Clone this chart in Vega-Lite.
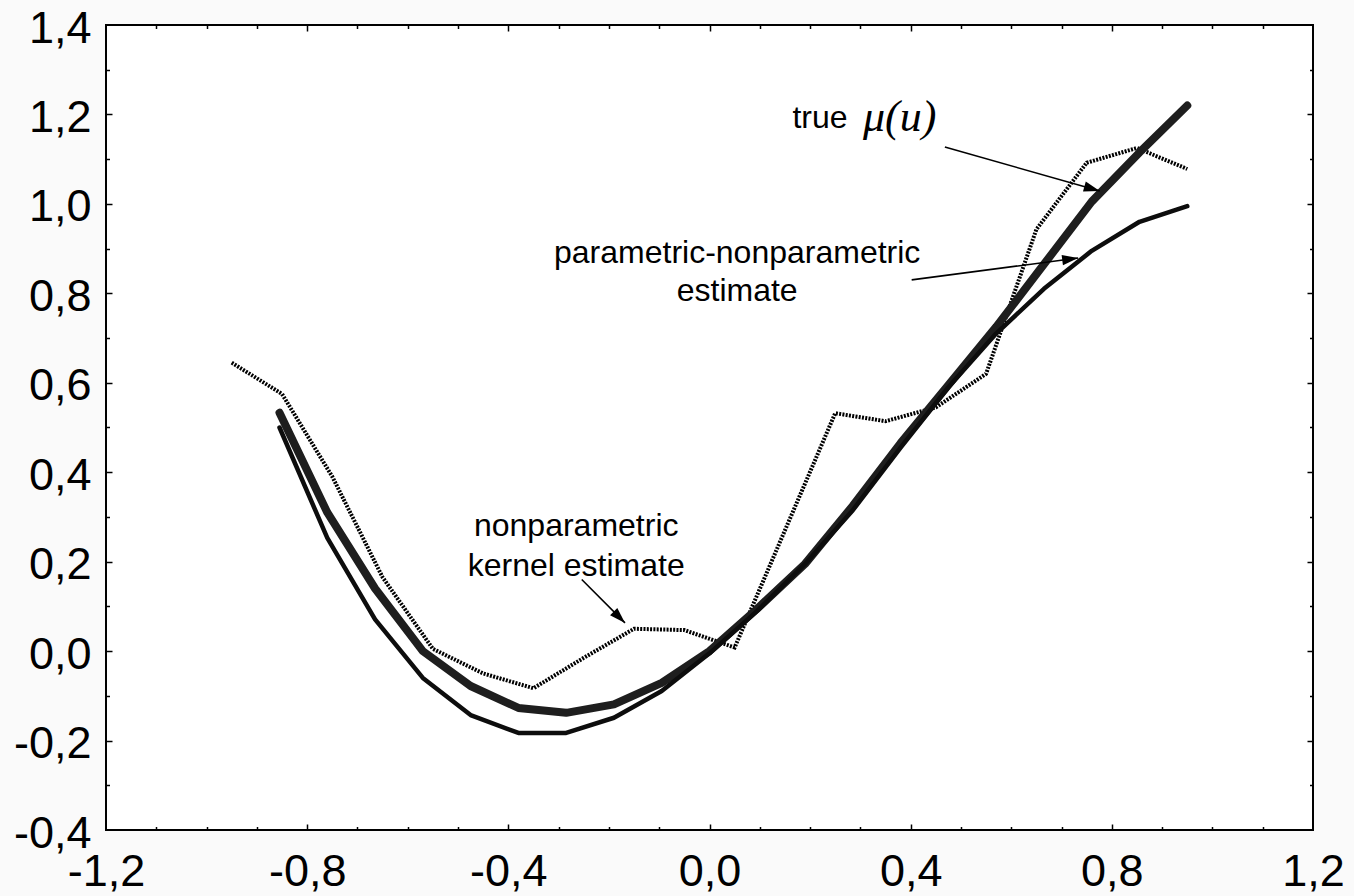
{
  "$schema": "https://vega.github.io/schema/vega-lite/v6.json",
  "width": 1207,
  "height": 805,
  "autosize": {"type": "none"},
  "padding": {"left": 106, "top": 25, "right": 41, "bottom": 66},
  "background": "#fafafa",
  "config": {
    "view": {"stroke": "#000", "strokeWidth": 2, "fill": "#ffffff"},
    "axis": {"grid": false, "domain": false, "title": null, "tickColor": "#000", "tickWidth": 1.5, "labelColor": "#000", "labelFont": "Liberation Sans"}
  },
  "datasets": {
    "curves": [
      {"series": "kernel", "x": -0.95, "y": 0.645},
      {"series": "kernel", "x": -0.85, "y": 0.575},
      {"series": "kernel", "x": -0.75, "y": 0.39},
      {"series": "kernel", "x": -0.65, "y": 0.165},
      {"series": "kernel", "x": -0.55, "y": 0.005},
      {"series": "kernel", "x": -0.45, "y": -0.05},
      {"series": "kernel", "x": -0.35, "y": -0.083},
      {"series": "kernel", "x": -0.25, "y": -0.015},
      {"series": "kernel", "x": -0.15, "y": 0.05},
      {"series": "kernel", "x": -0.05, "y": 0.047},
      {"series": "kernel", "x": 0.05, "y": 0.008},
      {"series": "kernel", "x": 0.15, "y": 0.27},
      {"series": "kernel", "x": 0.25, "y": 0.532},
      {"series": "kernel", "x": 0.35, "y": 0.514},
      {"series": "kernel", "x": 0.45, "y": 0.545},
      {"series": "kernel", "x": 0.55, "y": 0.62},
      {"series": "kernel", "x": 0.65, "y": 0.943},
      {"series": "kernel", "x": 0.75, "y": 1.092},
      {"series": "kernel", "x": 0.85, "y": 1.125},
      {"series": "kernel", "x": 0.95, "y": 1.078},
      {"series": "true", "x": -0.855, "y": 0.533},
      {"series": "true", "x": -0.76, "y": 0.31},
      {"series": "true", "x": -0.665, "y": 0.14},
      {"series": "true", "x": -0.57, "y": 0.0},
      {"series": "true", "x": -0.475, "y": -0.078},
      {"series": "true", "x": -0.38, "y": -0.127},
      {"series": "true", "x": -0.285, "y": -0.138},
      {"series": "true", "x": -0.19, "y": -0.119},
      {"series": "true", "x": -0.095, "y": -0.071},
      {"series": "true", "x": 0.0, "y": 0.0},
      {"series": "true", "x": 0.095, "y": 0.095},
      {"series": "true", "x": 0.19, "y": 0.195},
      {"series": "true", "x": 0.285, "y": 0.325},
      {"series": "true", "x": 0.38, "y": 0.465},
      {"series": "true", "x": 0.475, "y": 0.595},
      {"series": "true", "x": 0.57, "y": 0.725},
      {"series": "true", "x": 0.665, "y": 0.865},
      {"series": "true", "x": 0.76, "y": 1.005},
      {"series": "true", "x": 0.855, "y": 1.115},
      {"series": "true", "x": 0.95, "y": 1.22},
      {"series": "param", "x": -0.855, "y": 0.5},
      {"series": "param", "x": -0.76, "y": 0.253},
      {"series": "param", "x": -0.665, "y": 0.071},
      {"series": "param", "x": -0.57, "y": -0.06},
      {"series": "param", "x": -0.475, "y": -0.143},
      {"series": "param", "x": -0.38, "y": -0.183},
      {"series": "param", "x": -0.285, "y": -0.183},
      {"series": "param", "x": -0.19, "y": -0.149},
      {"series": "param", "x": -0.095, "y": -0.089},
      {"series": "param", "x": 0.0, "y": -0.005},
      {"series": "param", "x": 0.095, "y": 0.09},
      {"series": "param", "x": 0.19, "y": 0.195},
      {"series": "param", "x": 0.285, "y": 0.315},
      {"series": "param", "x": 0.38, "y": 0.455},
      {"series": "param", "x": 0.475, "y": 0.59},
      {"series": "param", "x": 0.57, "y": 0.71},
      {"series": "param", "x": 0.665, "y": 0.81},
      {"series": "param", "x": 0.76, "y": 0.895},
      {"series": "param", "x": 0.855, "y": 0.96},
      {"series": "param", "x": 0.95, "y": 0.995}
    ],
    "arrows": [
      {"x": 0.468, "y": 1.127, "x2": 0.776, "y2": 1.029, "angle": 15.85},
      {"x": 0.402, "y": 0.83, "x2": 0.733, "y2": 0.879, "angle": -7.6},
      {"x": -0.254, "y": 0.16, "x2": -0.168, "y2": 0.063, "angle": 45}
    ],
    "notes": [
      {"text": "true", "x": 0.2197, "y": 1.17},
      {"text": "parametric-nonparametric", "x": 0.055, "y": 0.868},
      {"text": "estimate", "x": 0.055, "y": 0.783},
      {"text": "nonparametric", "x": -0.265, "y": 0.257},
      {"text": "kernel estimate", "x": -0.265, "y": 0.168}
    ]
  },
  "resolve": {"axis": {"x": "independent", "y": "independent"}},
  "layer": [
    {
      "data": {"name": "curves"},
      "transform": [{"filter": "datum.series === 'kernel'"}],
      "mark": {"type": "line", "color": "#000000", "strokeWidth": 4, "strokeDash": [2, 1.3]},
      "encoding": {
        "x": {"field": "x", "type": "quantitative", "scale": {"domain": [-1.2, 1.2], "nice": false, "zero": false},
          "axis": {"orient": "bottom", "values": [-1.2, -0.8, -0.4, 0, 0.4, 0.8, 1.2], "ticks": false, "labelFontSize": 45, "labelPadding": 19, "labelFlush": false, "labelOverlap": false, "labelBound": false,
            "labelExpr": "(datum.value < 0 ? '-' : '') + replace(format(abs(datum.value), '.1f'), '.', ',')"}},
        "y": {"field": "y", "type": "quantitative", "scale": {"domain": [-0.4, 1.4], "nice": false, "zero": false},
          "axis": {"orient": "left", "values": [-0.4, -0.2, 0, 0.2, 0.4, 0.6, 0.8, 1.0, 1.2, 1.4], "ticks": false, "labelFontSize": 45, "labelPadding": 15, "labelOffset": 3, "labelFlush": false, "labelOverlap": false, "labelBound": false,
            "labelExpr": "(datum.value < 0 ? '-' : '') + replace(format(abs(datum.value), '.1f'), '.', ',')"}}
      }
    },
    {
      "data": {"name": "curves"},
      "transform": [{"filter": "datum.series === 'true'"}],
      "mark": {"type": "line", "color": "#1e1e1e", "strokeWidth": 8, "strokeCap": "round", "strokeJoin": "round"},
      "encoding": {
        "x": {"field": "x", "type": "quantitative", "scale": {"domain": [-1.2, 1.2], "nice": false, "zero": false},
          "axis": {"orient": "bottom", "values": [-1.1, -1.0, -0.9, -0.7, -0.6, -0.5, -0.3, -0.2, -0.1, 0.1, 0.2, 0.3, 0.5, 0.6, 0.7, 0.9, 1.0, 1.1], "labels": false, "tickSize": -3.5}},
        "y": {"field": "y", "type": "quantitative", "scale": {"domain": [-0.4, 1.4], "nice": false, "zero": false},
          "axis": {"orient": "left", "values": [-0.3, -0.1, 0.1, 0.3, 0.5, 0.7, 0.9, 1.1, 1.3], "labels": false, "tickSize": -3.5}}
      }
    },
    {
      "data": {"name": "curves"},
      "transform": [{"filter": "datum.series === 'param'"}],
      "mark": {"type": "line", "color": "#0d0d0d", "strokeWidth": 4.5, "strokeCap": "round", "strokeJoin": "round"},
      "encoding": {
        "x": {"field": "x", "type": "quantitative", "scale": {"domain": [-1.2, 1.2], "nice": false, "zero": false},
          "axis": {"orient": "bottom", "values": [-0.8, -0.4, 0, 0.4, 0.8], "labels": false, "tickSize": -6}},
        "y": {"field": "y", "type": "quantitative", "scale": {"domain": [-0.4, 1.4], "nice": false, "zero": false},
          "axis": {"orient": "left", "values": [-0.2, 0, 0.2, 0.4, 0.6, 0.8, 1.0, 1.2], "labels": false, "tickSize": -6}}
      }
    },
    {
      "data": {"name": "arrows"},
      "mark": {"type": "rule", "color": "#000", "strokeWidth": 1.6},
      "encoding": {
        "x": {"field": "x", "type": "quantitative", "scale": {"domain": [-1.2, 1.2], "nice": false, "zero": false},
          "axis": {"orient": "top", "values": [-1.1, -1.0, -0.9, -0.7, -0.6, -0.5, -0.3, -0.2, -0.1, 0.1, 0.2, 0.3, 0.5, 0.6, 0.7, 0.9, 1.0, 1.1], "labels": false, "tickSize": -3.5}},
        "y": {"field": "y", "type": "quantitative", "scale": {"domain": [-0.4, 1.4], "nice": false, "zero": false},
          "axis": {"orient": "right", "values": [-0.3, -0.1, 0.1, 0.3, 0.5, 0.7, 0.9, 1.1, 1.3], "labels": false, "tickSize": -3.5}},
        "x2": {"field": "x2"},
        "y2": {"field": "y2"}
      }
    },
    {
      "data": {"name": "arrows"},
      "mark": {"type": "point", "shape": "M0,0L-1,-0.32L-1,0.32Z", "size": 1024, "filled": true, "color": "#000", "opacity": 1, "strokeWidth": 0},
      "encoding": {
        "x": {"field": "x2", "type": "quantitative", "scale": {"domain": [-1.2, 1.2], "nice": false, "zero": false},
          "axis": {"orient": "top", "values": [-0.8, -0.4, 0, 0.4, 0.8], "labels": false, "tickSize": -6}},
        "y": {"field": "y2", "type": "quantitative", "scale": {"domain": [-0.4, 1.4], "nice": false, "zero": false},
          "axis": {"orient": "right", "values": [-0.2, 0, 0.2, 0.4, 0.6, 0.8, 1.0, 1.2], "labels": false, "tickSize": -6}},
        "angle": {"field": "angle", "type": "quantitative", "scale": null}
      }
    },
    {
      "data": {"name": "notes"},
      "mark": {"type": "text", "font": "Liberation Sans", "fontSize": 32, "align": "center", "baseline": "alphabetic", "color": "#000"},
      "encoding": {
        "x": {"field": "x", "type": "quantitative", "scale": {"domain": [-1.2, 1.2], "nice": false, "zero": false}, "axis": null},
        "y": {"field": "y", "type": "quantitative", "scale": {"domain": [-0.4, 1.4], "nice": false, "zero": false}, "axis": null},
        "text": {"field": "text"}
      }
    },
    {
      "data": {"values": [{"text": "μ(u)", "x": 0.305, "y": 1.163}]},
      "mark": {"type": "text", "font": "Liberation Serif", "fontStyle": "italic", "fontSize": 44, "align": "left", "baseline": "alphabetic", "color": "#000"},
      "encoding": {
        "x": {"field": "x", "type": "quantitative", "scale": {"domain": [-1.2, 1.2], "nice": false, "zero": false}, "axis": null},
        "y": {"field": "y", "type": "quantitative", "scale": {"domain": [-0.4, 1.4], "nice": false, "zero": false}, "axis": null},
        "text": {"field": "text"}
      }
    }
  ]
}
